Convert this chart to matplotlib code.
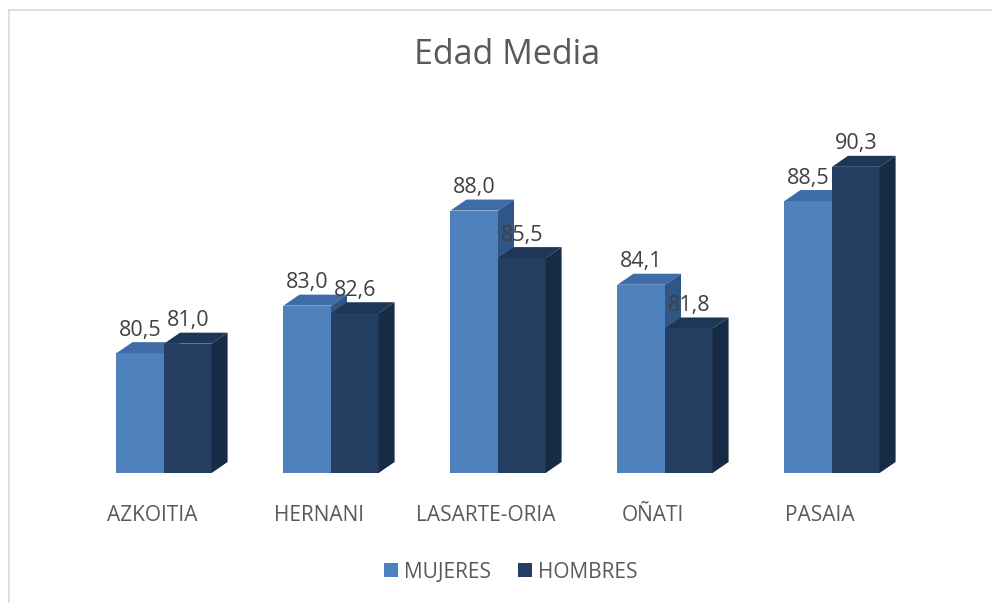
import matplotlib
matplotlib.use("Agg")
import matplotlib.pyplot as plt
import numpy as np
from matplotlib.patches import Polygon
from matplotlib.lines import Line2D
import matplotlib.transforms as mtrans

plt.rcParams['font.family'] = ['Open Sans', 'DejaVu Sans']

categories = ["AZKOITIA", "HERNANI", "LASARTE-ORIA", "OÑATI", "PASAIA"]
series_names = ["MUJERES", "HOMBRES"]
mujeres = [80.5, 83.0, 88.0, 84.1, 88.5]
hombres = [81.0, 82.6, 85.5, 81.8, 90.3]

W, H = 992, 603
fig = plt.figure(figsize=(W / 100, H / 100), dpi=100)
fig.patch.set_facecolor("white")

# plot area in pixels
left_px, right_px = 80.5, 915.5
bottom_px, top_px = 473, 134.5
ax = fig.add_axes([left_px / W, 1 - bottom_px / H, (right_px - left_px) / W, (bottom_px - top_px) / H])
ymin, ymax = 74.2, 92.0
ax.set_xlim(-0.5, len(categories) - 0.5)
ax.set_ylim(ymin, ymax)
ax.axis("off")

text_col = "#595959"
front_cols = ["#4F81BD", "#243F62"]
top_cols = ["#3E6CA6", "#1E3757"]
side_cols = ["#2F5685", "#182B45"]

bw = 0.285
dx = 16 / 167.0          # depth in category units
dy = 11 / 19.0           # depth in value units

x = np.arange(len(categories))
all_series = [mujeres, hombres]
for s, vals in enumerate(all_series):
    offs = (s - 0.5) * bw
    ax.bar(x + offs, np.array(vals) - ymin, bw, bottom=ymin, color=front_cols[s],
           label=series_names[s], zorder=2 + s * 3, linewidth=0)
    for i, v in enumerate(vals):
        x0 = x[i] + offs - bw / 2
        x1 = x0 + bw
        top = Polygon([(x0, v), (x1, v), (x1 + dx, v + dy), (x0 + dx, v + dy)],
                      closed=True, facecolor=top_cols[s], edgecolor="none", zorder=3 + s * 3)
        side = Polygon([(x1, ymin), (x1, v), (x1 + dx, v + dy), (x1 + dx, ymin + dy)],
                       closed=True, facecolor=side_cols[s], edgecolor="none", zorder=3 + s * 3)
        ax.add_patch(top)
        ax.add_patch(side)
        ax.annotate(f"{v:.1f}".replace(".", ","), xy=(x[i] + offs, v + dy),
                    xytext=(0, 1), textcoords="offset points", ha="center", va="bottom",
                    fontsize=15.5, color="#404040", zorder=10)

# category labels
lab_trans = ax.get_xaxis_transform() + mtrans.ScaledTranslation(-12 / 100, 0, fig.dpi_scale_trans)
for i, c in enumerate(categories):
    ax.text(x[i], -0.125, c, transform=lab_trans, ha="center", va="center",
            fontsize=15, color=text_col)

fig.text(507 / W, 1 - 55 / H, "Edad Media", ha="center", va="center", fontsize=24.5,
         color=text_col)

handles, labels = ax.get_legend_handles_labels()
fig.legend(handles, labels, loc="center", bbox_to_anchor=(511 / W, 1 - 572 / H), ncol=2,
           frameon=False, fontsize=15, handlelength=0.65, handleheight=0.65,
           handletextpad=0.3, columnspacing=1.3, labelcolor=text_col)

# chart border (left and top visible)
fig.add_artist(Line2D([8.5 / W, 8.5 / W], [0, 1 - 9.5 / H], transform=fig.transFigure,
                      color="#D9D9D9", linewidth=1.2))
fig.add_artist(Line2D([8.5 / W, 1], [1 - 9.5 / H, 1 - 9.5 / H], transform=fig.transFigure,
                      color="#D9D9D9", linewidth=1.2))

fig.savefig("out.png", dpi=100)
